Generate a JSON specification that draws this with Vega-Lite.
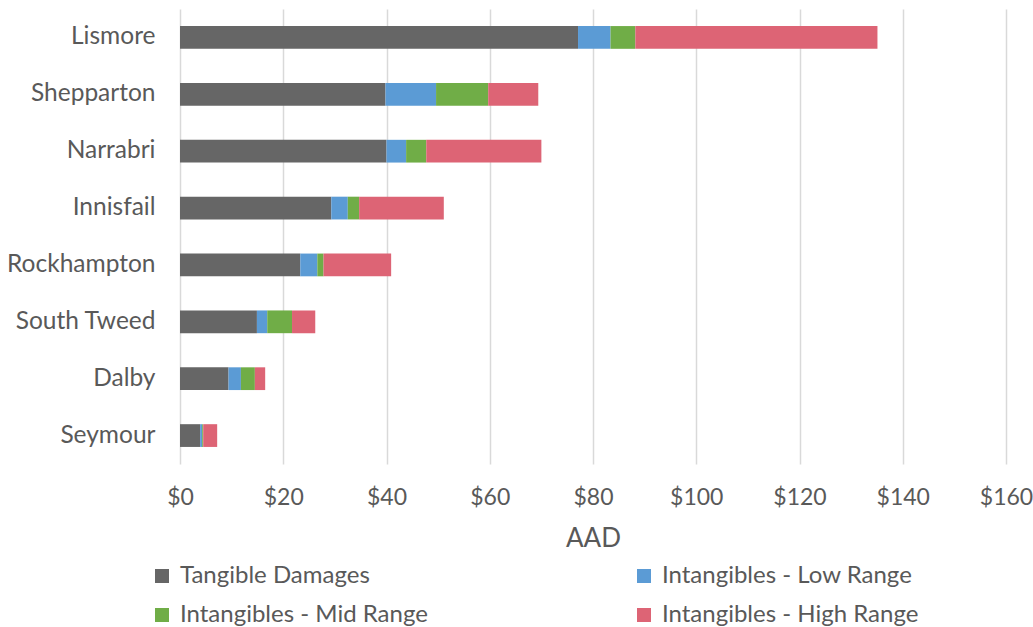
{
  "$schema": "https://vega.github.io/schema/vega-lite/v6.json",
  "width": 826,
  "height": 455,
  "padding": {"left": 6, "top": 9, "right": 2, "bottom": 5},
  "background": "white",
  "config": {
    "view": {"stroke": null},
    "font": "Lato"
  },
  "data": {
    "values": [
      {"city": "Lismore", "cat": "Tangible Damages", "k": 1, "v": 77.1},
      {"city": "Lismore", "cat": "Intangibles - Low Range", "k": 2, "v": 6.3},
      {"city": "Lismore", "cat": "Intangibles - Mid Range", "k": 3, "v": 4.8},
      {"city": "Lismore", "cat": "Intangibles - High Range", "k": 4, "v": 46.9},
      {"city": "Shepparton", "cat": "Tangible Damages", "k": 1, "v": 39.8},
      {"city": "Shepparton", "cat": "Intangibles - Low Range", "k": 2, "v": 9.8},
      {"city": "Shepparton", "cat": "Intangibles - Mid Range", "k": 3, "v": 10.1},
      {"city": "Shepparton", "cat": "Intangibles - High Range", "k": 4, "v": 9.7},
      {"city": "Narrabri", "cat": "Tangible Damages", "k": 1, "v": 40.0},
      {"city": "Narrabri", "cat": "Intangibles - Low Range", "k": 2, "v": 3.8},
      {"city": "Narrabri", "cat": "Intangibles - Mid Range", "k": 3, "v": 3.9},
      {"city": "Narrabri", "cat": "Intangibles - High Range", "k": 4, "v": 22.3},
      {"city": "Innisfail", "cat": "Tangible Damages", "k": 1, "v": 29.3},
      {"city": "Innisfail", "cat": "Intangibles - Low Range", "k": 2, "v": 3.2},
      {"city": "Innisfail", "cat": "Intangibles - Mid Range", "k": 3, "v": 2.2},
      {"city": "Innisfail", "cat": "Intangibles - High Range", "k": 4, "v": 16.4},
      {"city": "Rockhampton", "cat": "Tangible Damages", "k": 1, "v": 23.3},
      {"city": "Rockhampton", "cat": "Intangibles - Low Range", "k": 2, "v": 3.3},
      {"city": "Rockhampton", "cat": "Intangibles - Mid Range", "k": 3, "v": 1.2},
      {"city": "Rockhampton", "cat": "Intangibles - High Range", "k": 4, "v": 13.1},
      {"city": "South Tweed", "cat": "Tangible Damages", "k": 1, "v": 14.9},
      {"city": "South Tweed", "cat": "Intangibles - Low Range", "k": 2, "v": 2.0},
      {"city": "South Tweed", "cat": "Intangibles - Mid Range", "k": 3, "v": 4.8},
      {"city": "South Tweed", "cat": "Intangibles - High Range", "k": 4, "v": 4.5},
      {"city": "Dalby", "cat": "Tangible Damages", "k": 1, "v": 9.4},
      {"city": "Dalby", "cat": "Intangibles - Low Range", "k": 2, "v": 2.4},
      {"city": "Dalby", "cat": "Intangibles - Mid Range", "k": 3, "v": 2.7},
      {"city": "Dalby", "cat": "Intangibles - High Range", "k": 4, "v": 2.0},
      {"city": "Seymour", "cat": "Tangible Damages", "k": 1, "v": 3.9},
      {"city": "Seymour", "cat": "Intangibles - Low Range", "k": 2, "v": 0.4},
      {"city": "Seymour", "cat": "Intangibles - Mid Range", "k": 3, "v": 0.2},
      {"city": "Seymour", "cat": "Intangibles - High Range", "k": 4, "v": 2.7}
    ]
  },
  "mark": {"type": "bar"},
  "encoding": {
    "y": {
      "field": "city",
      "type": "nominal",
      "sort": ["Lismore", "Shepparton", "Narrabri", "Innisfail", "Rockhampton", "South Tweed", "Dalby", "Seymour"],
      "scale": {"paddingInner": 0.6, "paddingOuter": 0.3},
      "axis": {
        "title": null,
        "domain": false,
        "ticks": false,
        "labelFontSize": 24.5,
        "labelColor": "#595959",
        "labelPadding": 25,
        "labelFont": "Lato"
      }
    },
    "x": {
      "field": "v",
      "type": "quantitative",
      "stack": "zero",
      "scale": {"domain": [0, 160], "nice": false},
      "axis": {
        "title": "AAD",
        "values": [0, 20, 40, 60, 80, 100, 120, 140, 160],
        "format": "$,.0f",
        "domain": false,
        "ticks": false,
        "grid": true,
        "gridColor": "#D9D9D9",
        "gridWidth": 1.5,
        "labelFlush": false,
        "labelOverlap": false,
        "labelFontSize": 23,
        "labelColor": "#595959",
        "labelPadding": 22,
        "titleFontSize": 26,
        "titleFontWeight": "normal",
        "titleColor": "#595959",
        "titlePadding": 16,
        "labelFont": "Lato",
        "titleFont": "Lato"
      }
    },
    "order": {"field": "k", "type": "quantitative", "sort": "ascending"},
    "color": {
      "field": "cat",
      "type": "nominal",
      "scale": {
        "domain": ["Tangible Damages", "Intangibles - Low Range", "Intangibles - Mid Range", "Intangibles - High Range"],
        "range": ["#666666", "#5B9BD5", "#70AD47", "#DD6475"]
      },
      "legend": {
        "title": null,
        "orient": "none",
        "direction": "horizontal",
        "legendX": -30,
        "legendY": 555,
        "columns": 2,
        "symbolType": "square",
        "symbolSize": 196,
        "symbolStrokeWidth": 0,
        "symbolOpacity": 1,
        "labelFontSize": 24,
        "labelColor": "#595959",
        "labelFont": "Lato",
        "labelOffset": 6,
        "labelLimit": 400,
        "columnPadding": 204,
        "rowPadding": 15
      }
    }
  }
}
